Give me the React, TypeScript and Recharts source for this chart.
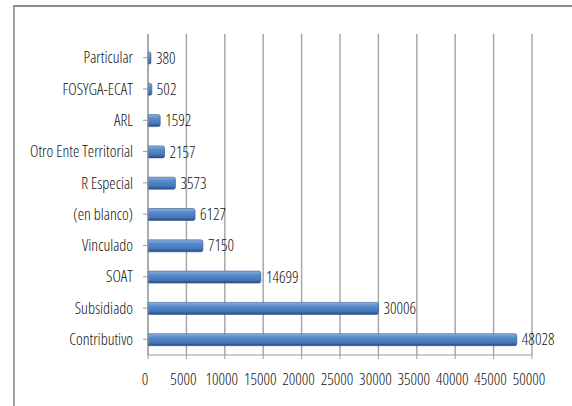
import {
  Bar,
  BarChart,
  CartesianGrid,
  LabelList,
  XAxis,
  YAxis,
} from "recharts";

const categories = [
  "Particular",
  "FOSYGA-ECAT",
  "ARL",
  "Otro Ente Territorial",
  "R Especial",
  "(en blanco)",
  "Vinculado",
  "SOAT",
  "Subsidiado",
  "Contributivo",
];

const totals = [380, 502, 1592, 2157, 3573, 6127, 7150, 14699, 30006, 48028];

const xTicks = [0, 5000, 10000, 15000, 20000, 25000, 30000, 35000, 40000, 45000, 50000];

const data = categories.map((name, i) => ({ name, value: totals[i] }));

const FONT = "'Open Sans', 'DejaVu Sans', sans-serif";
const textStyle = { fontStretch: "75%", fontWeight: 300 };

export default function App() {
  return (
    <div style={{ position: "fixed", left: 0, top: 0, width: 572, height: 406, background: "#fff" }}>
      <div
        style={{
          position: "absolute",
          left: 13,
          top: 5,
          width: 600,
          height: 450,
          borderTop: "2px solid #8a8a8a",
          borderLeft: "2px solid #a0a0a0",
        }}
      />
      <div style={{ position: "absolute", left: 0, top: 0 }}>
        <BarChart
          width={572}
          height={406}
          data={data}
          layout="vertical"
          margin={{ top: 34, right: 40, bottom: 21, left: 8 }}
        >
          <defs>
            <linearGradient id="barFill" x1="0" y1="0" x2="0" y2="1">
              <stop offset="0%" stopColor="#8db3e2" />
              <stop offset="30%" stopColor="#5a8bcb" />
              <stop offset="75%" stopColor="#4576b8" />
              <stop offset="100%" stopColor="#244a7e" />
            </linearGradient>
          </defs>
          <CartesianGrid horizontal={false} stroke="#a8a8a8" strokeWidth={1.5} />
          <XAxis
            type="number"
            domain={[0, 50000]}
            ticks={xTicks}
            interval={0}
            height={30}
            tickSize={4}
            tickMargin={15}
            stroke="#9a9a9a"
            tick={{ fill: "#111", fontSize: 16, fontFamily: FONT, dx: -3, style: textStyle }}
          />
          <YAxis
            type="category"
            dataKey="name"
            width={140}
            interval={0}
            tickSize={5}
            tickMargin={10}
            padding={{ top: 8, bottom: 0 }}
            stroke="#9a9a9a"
            tick={{ fill: "#111", fontSize: 16, fontFamily: FONT, style: textStyle }}
          />
          <Bar
            dataKey="value"
            fill="url(#barFill)"
            stroke="#30578e"
            strokeWidth={0.6}
            barSize={12}
            radius={[0, 2, 2, 0]}
            isAnimationActive={false}
          >
            <LabelList
              dataKey="value"
              position="right"
              offset={5}
              fill="#111"
              fontSize={16}
              fontFamily={FONT}
              style={textStyle}
            />
          </Bar>
        </BarChart>
      </div>
    </div>
  );
}
